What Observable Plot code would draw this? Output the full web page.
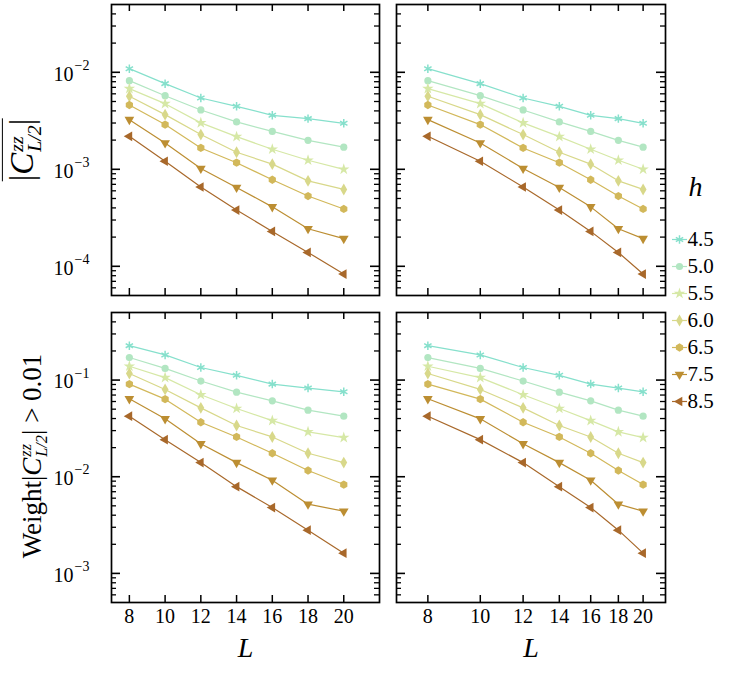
<!DOCTYPE html>
<html>
<head>
<meta charset="utf-8">
<script src="https://cdn.jsdelivr.net/npm/d3@7"></script>
<script src="https://cdn.jsdelivr.net/npm/@observablehq/plot@0.6"></script>
<style>
  body { margin: 0; background: #fff; font-family: "Liberation Serif", serif; }
  #fig { position: relative; width: 729px; height: 674px; overflow: hidden; }
  #fig > svg { position: absolute; }
  .ylab { position: absolute; transform: translate(-50%, -50%) rotate(-90deg); white-space: nowrap; color: #000; }
  .ov { border-top: 1.5px solid #000; padding-top: 1px; }
  .ss { display: inline-flex; flex-direction: column; font-size: 0.6em; line-height: 0.95; vertical-align: middle; font-style: italic; margin-left: 1px; }
</style>
</head>
<body>
<div id="fig">
  <div class="ylab" style="left:24px; top:150px; font-size:33px;"><span class="ov">|<i>C</i><span class="ss"><span>zz</span><span>L/2</span></span>|</span></div>
  <div class="ylab" style="left:34px; top:456px; font-size:27px;">Weight|<i>C</i><span class="ss"><span>zz</span><span>L/2</span></span>| &gt; 0.01</div>
</div>
<script>
const L = [8, 10, 12, 14, 16, 18, 20];
const hValues = ["4.5", "5.0", "5.5", "6.0", "6.5", "7.5", "8.5"];
const colors = ["#86e0cc", "#b2e6c2", "#d6e8a6", "#d8d88a", "#d2b85a", "#bc8e32", "#a8682a"];
const symbols = ["asterisk", "circle", "star", "diamond", "hexagon", "triangle", "triangle"];
const rotations = [0, 0, 0, 0, 0, 180, -90];

// mean |C^zz_{L/2}| per h (rows) and L (columns)
const corrMean = [
  [0.0109, 0.00764, 0.00543, 0.00446, 0.00360, 0.00333, 0.00298],
  [0.0082, 0.00574, 0.00409, 0.00308, 0.00246, 0.00199, 0.00169],
  [0.00679, 0.00475, 0.00301, 0.00217, 0.00161, 0.00124, 0.00100],
  [0.00566, 0.00366, 0.00228, 0.00150, 0.00113, 0.00076, 0.00062],
  [0.00460, 0.00289, 0.00166, 0.00117, 0.00078, 0.00053, 0.00039],
  [0.00325, 0.00187, 0.00102, 0.00065, 0.00041, 0.000244, 0.000193],
  [0.00219, 0.00121, 0.000657, 0.00038, 0.000229, 0.000139, 0.0000832]
];
// weight of |C^zz_{L/2}| > 0.01
const weight = [
  [0.227, 0.182, 0.135, 0.112, 0.0908, 0.0826, 0.0756],
  [0.171, 0.132, 0.0977, 0.075, 0.061, 0.0488, 0.0423],
  [0.139, 0.106, 0.0705, 0.0508, 0.0381, 0.0291, 0.0254],
  [0.117, 0.080, 0.0516, 0.0339, 0.0258, 0.0175, 0.014],
  [0.0908, 0.0635, 0.0366, 0.0258, 0.0175, 0.0116, 0.0083],
  [0.064, 0.0397, 0.0219, 0.014, 0.0092, 0.0052, 0.0044],
  [0.0423, 0.0242, 0.014, 0.0079, 0.0048, 0.0028, 0.00162]
];

const xDomain = [7, 22];
const fig = d3.select("#fig");

function minorTicks(domain) {
  const out = [];
  for (let k = -6; k <= 0; k++) {
    for (let m = 2; m <= 9; m++) {
      const v = m * Math.pow(10, k);
      if (v > domain[0] && v < domain[1]) out.push(v);
    }
  }
  return out;
}

function panel(opts) {
  const {values, yDomain, decades, xType, yLabels, xLabels, left, top, width, height, margins} = opts;
  const fw = width - margins[0] - margins[1];
  const fh = height - margins[2] - margins[3];
  const minor = minorTicks(yDomain);
  // helper scales to turn a tick length in pixels into data units
  const xs = (xType === "log" ? d3.scaleLog() : d3.scaleLinear()).domain(xDomain).range([0, fw]);
  const ys = d3.scaleLog().domain(yDomain).range([fh, 0]);
  const rows = values.map((vals, i) => L.map((l, j) => ({L: l, v: vals[j], i})));
  const yTicks = (ticks, len, sw) => [
    Plot.ruleY(ticks, {y: d => d, x1: xDomain[0], x2: xs.invert(len), stroke: "#000", strokeWidth: sw}),
    Plot.ruleY(ticks, {y: d => d, x1: xs.invert(fw - len), x2: xDomain[1], stroke: "#000", strokeWidth: sw})
  ];
  const marks = [
    ...yTicks(decades, 9, 1.6),
    ...yTicks(minor, 5, 1.3),
    Plot.ruleX(L, {x: d => d, y1: yDomain[0], y2: ys.invert(fh - 7), stroke: "#000", strokeWidth: 1.5}),
    Plot.ruleX(L, {x: d => d, y1: ys.invert(7), y2: yDomain[1], stroke: "#000", strokeWidth: 1.5})
  ];
  rows.forEach((r, i) => {
    marks.push(Plot.line(r, {x: "L", y: "v", stroke: colors[i], strokeWidth: 1.2}));
    const isStroke = symbols[i] === "asterisk";
    marks.push(Plot.dot(r, {
      x: "L", y: "v", symbol: symbols[i], r: isStroke ? 4 : 3.6,
      fill: isStroke ? "none" : colors[i], stroke: isStroke ? colors[i] : "none",
      strokeWidth: isStroke ? 1.5 : 0, rotate: rotations[i]
    }));
  });
  if (yLabels) {
    marks.push(Plot.text(decades, {frameAnchor: "left", y: d => d, text: () => "10", textAnchor: "end", dx: -38, dy: 2, fontSize: 20}));
    marks.push(Plot.text(decades, {frameAnchor: "left", y: d => d, text: d => "\u2212" + Math.round(-Math.log10(d)), textAnchor: "start", dx: -37, dy: -7, fontSize: 14}));
  }
  if (xLabels) {
    marks.push(Plot.text(L, {x: d => d, frameAnchor: "bottom", dy: 20, text: d => String(d), fontSize: 20}));
    marks.push(Plot.text(["L"], {frameAnchor: "bottom", dy: 54, text: d => d, fontSize: 28, fontStyle: "italic"}));
  }
  marks.push(Plot.frame({stroke: "#000", strokeWidth: 1.7}));
  const chart = Plot.plot({
    width, height,
    marginLeft: margins[0], marginRight: margins[1], marginTop: margins[2], marginBottom: margins[3],
    style: {background: "transparent", fontFamily: "Liberation Serif, serif", color: "#000", overflow: "visible"},
    x: {type: xType, domain: xDomain, axis: null},
    y: {type: "log", domain: yDomain, axis: null},
    marks
  });
  chart.style.left = left + "px";
  chart.style.top = top + "px";
  fig.append(() => chart);
}

const topDomain = [5e-5, 5e-2];
const botDomain = [5e-4, 0.5];

panel({values: corrMean, yDomain: topDomain, decades: [1e-4, 1e-3, 1e-2], xType: "linear", yLabels: true, xLabels: false,
  left: 0, top: 0, width: 381, height: 297, margins: [111, 2, 4, 2]});
panel({values: corrMean, yDomain: topDomain, decades: [1e-4, 1e-3, 1e-2], xType: "log", yLabels: false, xLabels: false,
  left: 381, top: 0, width: 286, height: 297, margins: [15, 2, 4, 2]});
panel({values: weight, yDomain: botDomain, decades: [1e-3, 1e-2, 1e-1], xType: "linear", yLabels: true, xLabels: true,
  left: 0, top: 300, width: 381, height: 374, margins: [111, 2, 12, 72]});
panel({values: weight, yDomain: botDomain, decades: [1e-3, 1e-2, 1e-1], xType: "log", yLabels: false, xLabels: true,
  left: 381, top: 300, width: 286, height: 374, margins: [15, 2, 12, 72]});

// legend
const legendMarks = [
  Plot.text(["h"], {frameAnchor: "top-left", dx: 30, dy: 6, text: d => d, fontSize: 28, fontStyle: "italic", textAnchor: "middle"})
];
hValues.forEach((h, i) => {
  const isStroke = symbols[i] === "asterisk";
  legendMarks.push(Plot.ruleY([h], {y: d => d, x1: 7, x2: 22, stroke: colors[i], strokeWidth: 1.2}));
  legendMarks.push(Plot.dot([h], {x: 14, y: d => d, symbol: symbols[i], r: isStroke ? 4 : 3.6,
    fill: isStroke ? "none" : colors[i], stroke: isStroke ? colors[i] : "none", strokeWidth: isStroke ? 1.5 : 0, rotate: rotations[i]}));
  legendMarks.push(Plot.text([h], {x: 22, y: d => d, text: d => d, textAnchor: "start", fontSize: 21}));
});
const legend = Plot.plot({
  width: 64, height: 265, margin: 0,
  style: {background: "transparent", fontFamily: "Liberation Serif, serif", color: "#000", overflow: "visible"},
  x: {domain: [0, 64], range: [0, 64], axis: null},
  y: {type: "point", domain: hValues, range: [52, 247], axis: null},
  marks: legendMarks
});
legend.style.left = "665px";
legend.style.top = "170px";
fig.append(() => legend);
</script>
</body>
</html>
